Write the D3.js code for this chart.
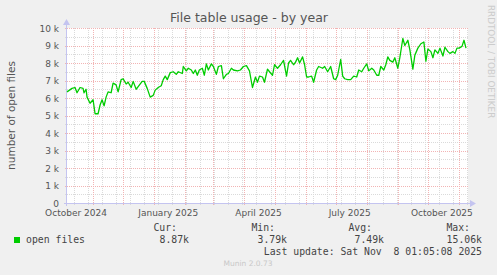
<!DOCTYPE html>
<html>
<head>
<meta charset="utf-8">
<script src="https://cdn.jsdelivr.net/npm/d3@7"></script>
<style>
  body { margin: 0; background: #f0f0f0; }
  svg { display: block; }
</style>
</head>
<body>
<div id="chart"></div>
<script>
// graph window: one pixel per day
var startDate = new Date(2024, 9, 6);
var endDate = new Date(2025, 10, 10);

// days after startDate, and open files (thousands)
var days = [0, 5, 8, 10, 13, 16, 17, 19, 20, 23, 26, 28, 31, 33, 35, 37, 39, 41, 44, 46,
  49, 51, 54, 56, 59, 61, 64, 66, 69, 71, 75, 77, 80, 83, 86, 88, 91, 94, 96, 98,
  100, 103, 106, 109, 111, 115, 116, 119, 121, 124, 126, 128, 130, 132, 135, 137, 139, 141, 144, 146,
  149, 151, 154, 156, 159, 161, 164, 166, 170, 173, 176, 179, 182, 185, 188, 190, 192, 195, 197, 200,
  202, 205, 207, 210, 213, 216, 219, 221, 223, 226, 228, 230, 232, 235, 237, 239, 241, 244, 246, 249,
  251, 255, 257, 260, 263, 266, 268, 270, 273, 275, 277, 280, 283, 286, 289, 291, 294, 296, 299, 301,
  304, 306, 309, 311, 313, 316, 318, 320, 322, 325, 327, 330, 332, 335, 337, 340, 342, 345, 347, 350,
  353, 356, 358, 360, 363, 365, 367, 370, 372, 375, 377, 380, 382, 385, 387, 389, 391, 394, 396, 398];
var openFiles = [6.35, 6.55, 6.6, 6.3, 6.6, 6.55, 6.3, 6.5, 6.05, 5.7, 5.9, 5.1, 5.1, 5.6, 5.9, 5.55, 6.05, 6.35, 6.3, 6.85,
  6.75, 6.35, 7.05, 7.1, 6.8, 6.9, 6.6, 6.95, 6.5, 6.65, 6.95, 6.95, 6.55, 6.05, 6.15, 6.45, 6.6, 6.7, 7.05, 7.25,
  7.05, 7.45, 7.5, 7.35, 7.5, 7.4, 7.8, 7.55, 7.7, 7.6, 7.4, 7.6, 7.3, 7.6, 7.7, 7.3, 7.95, 7.6, 7.95, 7.8,
  7.35, 7.8, 7.85, 7.1, 7.35, 7.4, 7.7, 7.6, 7.55, 7.6, 7.8, 7.85, 7.55, 6.6, 7.2, 6.9, 7.25, 7.2, 6.9, 7.65,
  7.5, 7.3, 7.9, 7.7, 7.9, 8.15, 7.25, 8.0, 8.15, 7.9, 8.05, 8.3, 8.0, 8.35, 7.9, 7.2, 7.2, 7.25, 6.9, 7.6,
  7.8, 7.7, 7.8, 7.5, 7.8, 7.1, 7.05, 7.3, 8.2, 7.25, 7.1, 7.05, 7.05, 7.25, 7.2, 7.6, 7.5, 7.7, 7.95, 7.55,
  7.7, 7.6, 7.3, 7.3, 7.8, 7.6, 7.9, 8.35, 8.15, 8.05, 8.3, 7.7, 8.3, 9.4, 9.0, 9.3, 8.75, 7.65, 8.45, 8.85,
  9.1, 9.2, 8.1, 8.8, 8.65, 8.3, 8.75, 8.55, 8.85, 8.4, 8.9, 8.65, 8.55, 8.65, 8.55, 8.85, 8.85, 8.95, 9.3, 8.85];

var yTicks = [0, 1, 2, 3, 4, 5, 6, 7, 8, 9, 10];
var yMinorTicks = [0.5, 1.5, 2.5, 3.5, 4.5, 5.5, 6.5, 7.5, 8.5, 9.5];
var xLabelMonths = [new Date(2024, 9, 1), new Date(2025, 0, 1), new Date(2025, 3, 1),
  new Date(2025, 6, 1), new Date(2025, 9, 1)];

var legendName = "open files";
var legendHeads = ["Cur:", "Min:", "Avg:", "Max:"];
var legendValues = ["8.87k", "3.79k", "7.49k", "15.06k"];
var lastUpdate = "Last update: Sat Nov  8 01:05:08 2025";

var W = 497, H = 275;
var pLeft = 67, pRight = 468, pTop = 28, pBottom = 203;
var sans = "'DejaVu Sans', sans-serif", mono = "'DejaVu Sans Mono', monospace";

var svg = d3.select("#chart").append("svg")
    .attr("width", W)
    .attr("height", H);

svg.append("rect").attr("width", W).attr("height", H).attr("fill", "#f0f0f0");

var x = d3.scaleTime().domain([startDate, endDate]).range([pLeft, pRight]);
var y = d3.scaleLinear().domain([0, 10]).range([pBottom, pTop]);

// plot background
svg.append("rect")
    .attr("x", pLeft).attr("y", pTop)
    .attr("width", pRight - pLeft).attr("height", pBottom - pTop)
    .attr("fill", "#ffffff");

var grid = svg.append("g").attr("shape-rendering", "crispEdges");
var minorColor = "#dadada", majorColor = "#f2b4b4";

// minor grid: every other sunday + half thousands
var weeks = d3.timeSunday.range(startDate, endDate).filter(function (d, i) { return i % 2 == 1; });
grid.selectAll(".vminor").data(weeks).enter().append("line")
    .attr("x1", function (d) { return Math.round(x(d)) + 0.5; })
    .attr("x2", function (d) { return Math.round(x(d)) + 0.5; })
    .attr("y1", pTop).attr("y2", pBottom + 2)
    .attr("stroke", minorColor).attr("stroke-dasharray", "1,1");
grid.selectAll(".hminor").data(yMinorTicks).enter().append("line")
    .attr("x1", pLeft - 2).attr("x2", pRight)
    .attr("y1", function (d) { return Math.round(y(d)) + 0.5; })
    .attr("y2", function (d) { return Math.round(y(d)) + 0.5; })
    .attr("stroke", minorColor).attr("stroke-dasharray", "1,1");

// major grid: months + thousands
var months = d3.timeMonth.range(startDate, endDate);
grid.selectAll(".vmajor").data(months).enter().append("line")
    .attr("x1", function (d) { return Math.round(x(d)) + 0.5; })
    .attr("x2", function (d) { return Math.round(x(d)) + 0.5; })
    .attr("y1", pTop).attr("y2", pBottom + 3)
    .attr("stroke", majorColor).attr("stroke-dasharray", "1,1");
grid.selectAll(".hmajor").data(yTicks.slice(1)).enter().append("line")
    .attr("x1", pLeft - 2).attr("x2", pRight)
    .attr("y1", function (d) { return Math.round(y(d)) + 0.5; })
    .attr("y2", function (d) { return Math.round(y(d)) + 0.5; })
    .attr("stroke", majorColor).attr("stroke-dasharray", "1,1");

// axes with arrows
var axisColor = "#c4c4f0";
grid.append("line").attr("x1", pLeft - 0.5).attr("x2", pLeft - 0.5)
    .attr("y1", pBottom + 3).attr("y2", pTop - 4).attr("stroke", axisColor);
grid.append("line").attr("x1", pLeft - 3).attr("x2", pRight + 2)
    .attr("y1", pBottom + 0.5).attr("y2", pBottom + 0.5).attr("stroke", axisColor);
svg.append("path")
    .attr("d", "M" + (pLeft - 4) + "," + (pTop - 3) + "L" + (pLeft + 3) + "," + (pTop - 3) + "L" + (pLeft - 0.5) + "," + (pTop - 9) + "Z")
    .attr("fill", axisColor);
svg.append("path")
    .attr("d", "M" + (pRight + 2) + "," + (pBottom - 3) + "L" + (pRight + 2) + "," + (pBottom + 4) + "L" + (pRight + 8) + "," + (pBottom + 0.5) + "Z")
    .attr("fill", axisColor);

// y tick labels
svg.selectAll(".ylab").data(yTicks).enter().append("text")
    .attr("x", pLeft - 8)
    .attr("y", function (d) { return y(d) + 3.5; })
    .attr("text-anchor", "end")
    .attr("font-family", sans).attr("font-size", 9)
    .attr("fill", "#555")
    .text(function (d) { return d == 0 ? "0" : d + " k"; });

// x labels, centred in their month
svg.selectAll(".xlab").data(xLabelMonths).enter().append("text")
    .attr("x", function (d) { return x(d3.timeDay.offset(d, 14)); })
    .attr("y", pBottom + 13)
    .attr("text-anchor", "middle")
    .attr("font-family", sans).attr("font-size", 9)
    .attr("fill", "#555")
    .text(d3.timeFormat("%B %Y"));

// the series
var points = days.map(function (d, i) { return { date: d3.timeDay.offset(startDate, d), value: openFiles[i] }; });
var line = d3.line()
    .x(function (d) { return x(d.date); })
    .y(function (d) { return y(d.value); });
svg.append("path")
    .datum(points)
    .attr("d", line)
    .attr("fill", "none")
    .attr("stroke", "#00cc00")
    .attr("stroke-width", 1.3)
    .attr("stroke-linejoin", "round");

// title and side texts
svg.append("text")
    .attr("x", 249).attr("y", 22)
    .attr("text-anchor", "middle")
    .attr("font-family", sans).attr("font-size", 12.5)
    .attr("fill", "#555")
    .text("File table usage - by year");

svg.append("text")
    .attr("transform", "translate(15," + ((pTop + pBottom) / 2) + ") rotate(-90)")
    .attr("text-anchor", "middle")
    .attr("font-family", sans).attr("font-size", 10.5)
    .attr("fill", "#555")
    .text("number of open files");

svg.append("text")
    .attr("transform", "translate(488,5) rotate(90)")
    .attr("text-anchor", "start")
    .attr("font-family", sans).attr("font-size", 8.8)
    .attr("fill", "#cccccc")
    .text("RRDTOOL / TOBI OETIKER");

// legend
svg.append("rect")
    .attr("x", 14).attr("y", 237).attr("width", 6).attr("height", 6)
    .attr("fill", "#00cc00");
svg.append("text")
    .attr("x", 26).attr("y", 243)
    .attr("font-family", mono).attr("font-size", 9.8)
    .attr("fill", "#444")
    .text(legendName);

var colRight = [177, 275, 372, 470];
svg.selectAll(".lhead").data(legendHeads).enter().append("text")
    .attr("x", function (d, i) { return colRight[i]; })
    .attr("y", 231)
    .attr("text-anchor", "end")
    .attr("font-family", mono).attr("font-size", 9.8)
    .attr("fill", "#444")
    .text(String);
svg.selectAll(".lval").data(legendValues).enter().append("text")
    .attr("x", function (d, i) { return colRight[i] + 12; })
    .attr("y", 243)
    .attr("text-anchor", "end")
    .attr("font-family", mono).attr("font-size", 9.8)
    .attr("fill", "#444")
    .text(String);

svg.append("text")
    .attr("x", 482).attr("y", 255)
    .attr("text-anchor", "end")
    .attr("font-family", mono).attr("font-size", 9.8)
    .attr("fill", "#444")
    .style("white-space", "pre")
    .text(lastUpdate);

svg.append("text")
    .attr("x", 248).attr("y", 266)
    .attr("text-anchor", "middle")
    .attr("font-family", sans).attr("font-size", 7.5)
    .attr("fill", "#c8c8c8")
    .text("Munin 2.0.73");
</script>
</body>
</html>
